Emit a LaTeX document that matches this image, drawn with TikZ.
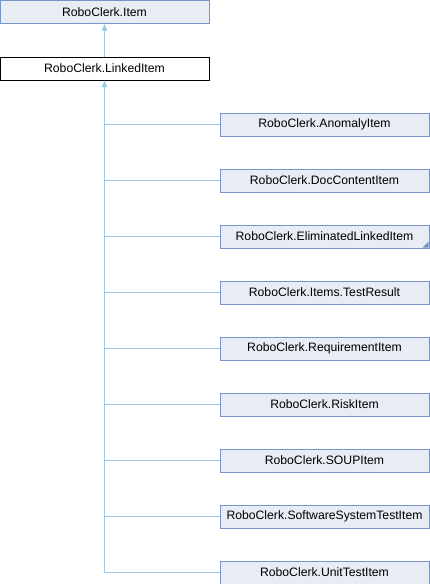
\documentclass[tikz,border=0pt]{standalone}
\usepackage{fontspec}
\setmainfont{Liberation Sans}
\usepackage{xcolor}
\usetikzlibrary{arrows.meta, positioning, calc}

\definecolor{boxfill}{HTML}{E8ECF4}
\definecolor{boxline}{HTML}{7A93C8}
\definecolor{edgeblue}{HTML}{9CC9E6}

\begin{document}
\begin{tikzpicture}[
  x=1pt, y=1pt,
  node distance=33pt and 11pt,
  box/.style={rectangle, draw, line width=1pt, minimum width=209pt,
              minimum height=23pt, inner sep=0pt, outer sep=0pt,
              font=\fontsize{12.2}{14}\selectfont},
  cbox/.style={box, draw=boxline, fill=boxfill},
  wbox/.style={box, draw=black, fill=white},
  conn/.style={draw=edgeblue, line width=1pt},
  arr/.style={conn, {Latex[length=7pt, width=6pt]}-},
]
\useasboundingbox (0,0) rectangle (430,-584);

%% ---- base classes ----
\node[cbox] (item) at (104.5,-12) {RoboClerk.Item};
\node[wbox] (linked) at (104.5,-68.5) {RoboClerk.LinkedItem};
\draw[arr] (item.south) -- (linked.north);

%% ---- derived classes ----
\node[cbox] (anomaly) at (324.5,-124.5) {RoboClerk.AnomalyItem};
\node[cbox, below=of anomaly] (doccontent) {RoboClerk.DocContentItem};
\node[cbox, below=of doccontent] (eliminated) {RoboClerk.EliminatedLinkedItem};
\node[cbox, below=of eliminated] (testresult) {RoboClerk.Items.TestResult};
\node[cbox, below=of testresult] (requirement) {RoboClerk.RequirementItem};
\node[cbox, below=of requirement] (risk) {RoboClerk.RiskItem};
\node[cbox, below=of risk] (soup) {RoboClerk.SOUPItem};
\node[cbox, below=of soup] (swsystest) {RoboClerk.SoftwareSystemTestItem};
\node[cbox, below=of swsystest] (unittest) {RoboClerk.UnitTestItem};

%% marker for hidden children
\fill[boxline] ($(eliminated.south east)+(-0.5,0.5)$) -- ++(0,6) -- ++(-6,-6) -- cycle;

%% trunk and branches
\draw[arr] (linked.south) -- (linked.south |- unittest.west) -- (unittest.west);
\foreach \c in {anomaly, doccontent, eliminated, testresult, requirement, risk, soup, swsystest}
  \draw[conn] (linked.south |- \c.west) -- (\c.west);

\end{tikzpicture}
\end{document}
